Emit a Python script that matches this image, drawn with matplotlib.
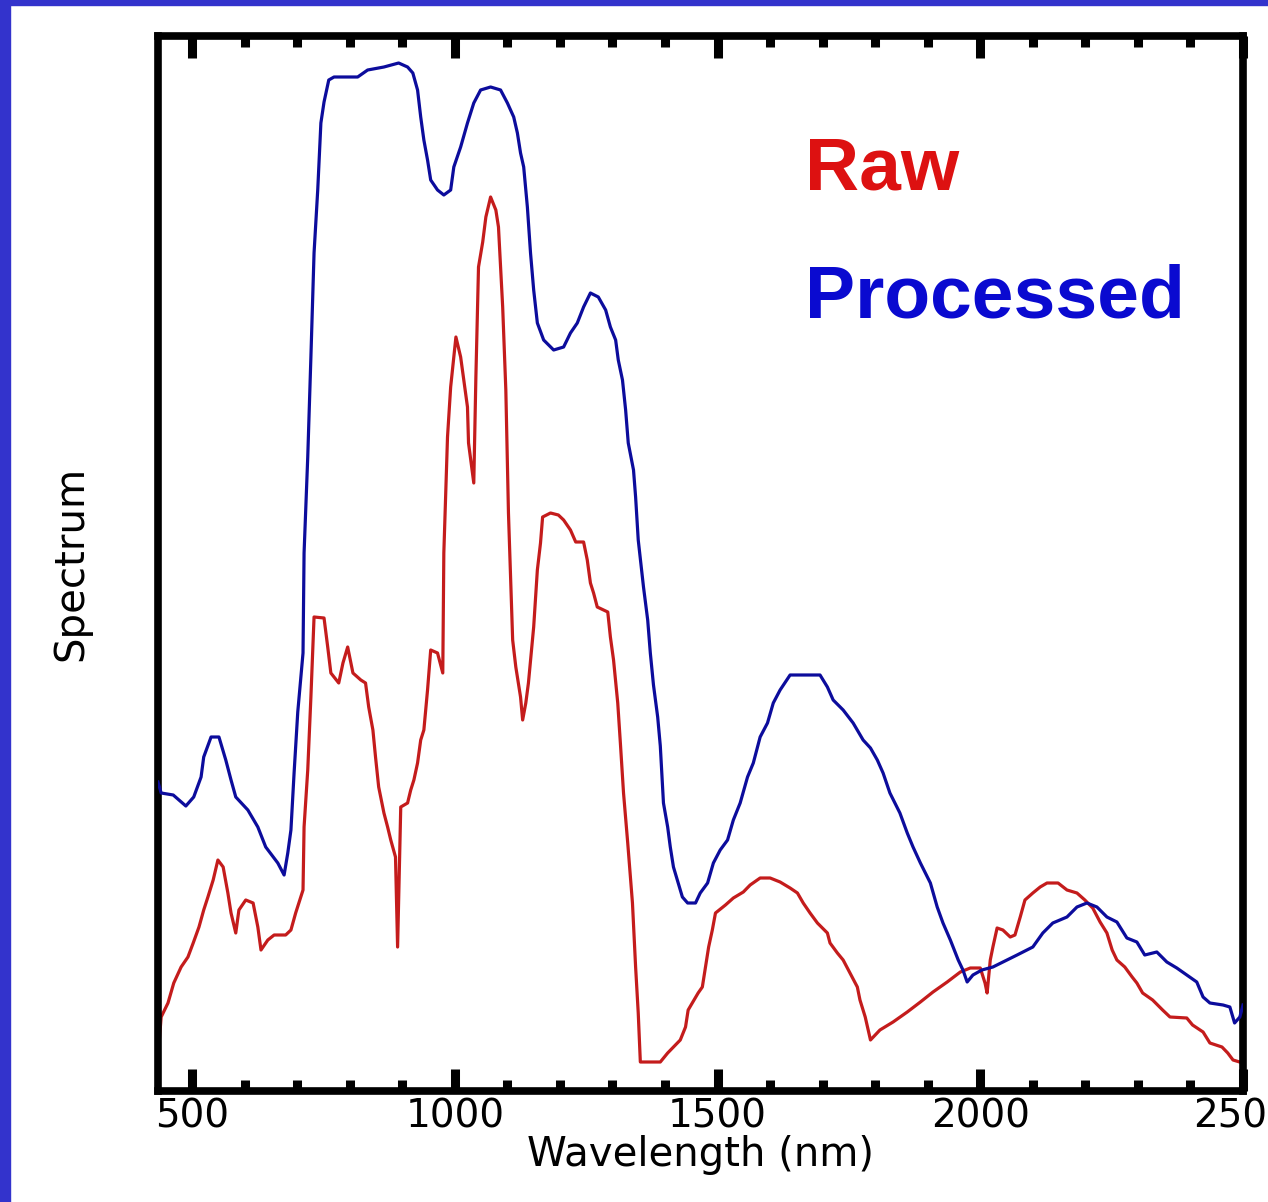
import matplotlib.pyplot as plt
from matplotlib.patches import Rectangle
from matplotlib.ticker import MultipleLocator

# Processed spectrum (wavelength in nm, arbitrary units)
proc_wl = [435, 441, 464, 488, 503, 517, 522, 536, 551, 564, 574, 583, 606, 625, 640, 663,
           675, 682, 688, 694, 701, 711, 713, 720, 726, 732, 739, 745, 751, 760, 770, 815,
           834, 865, 893, 910, 920, 929, 935, 941, 948, 954, 967, 979, 992, 998, 1011, 1024,
           1036, 1049, 1068, 1087, 1100, 1112, 1119, 1125, 1131, 1138, 1144, 1150, 1157, 1169,
           1188, 1207, 1220, 1233, 1245, 1258, 1273, 1287, 1296, 1306, 1311, 1319, 1325, 1330,
           1340, 1344, 1349, 1359, 1367, 1372, 1378, 1386, 1391, 1397, 1405, 1410, 1416, 1425,
           1433, 1443, 1458, 1467, 1481, 1492, 1505, 1519, 1530, 1543, 1557, 1568, 1581, 1595,
           1606, 1619, 1638, 1695, 1709, 1720, 1739, 1758, 1777, 1791, 1804, 1815, 1828, 1847,
           1861, 1872, 1886, 1905, 1918, 1929, 1943, 1958, 1967, 1975, 1986, 2003, 2024, 2051,
           2070, 2100, 2119, 2138, 2165, 2184, 2203, 2222, 2241, 2260, 2279, 2298, 2313, 2336,
           2355, 2374, 2393, 2412, 2424, 2437, 2462, 2475, 2484, 2494, 2500]
proc_val = [309, 298, 296, 285, 294, 314, 334, 354, 354, 331, 311, 294, 281, 264, 244, 228,
            216, 238, 261, 318, 379, 438, 538, 634, 734, 838, 901, 968, 989, 1011, 1014, 1014,
            1021, 1024, 1028, 1024, 1018, 1001, 974, 951, 931, 911, 901, 896, 901, 924, 944, 968,
            988, 1001, 1004, 1001, 988, 974, 958, 938, 924, 884, 838, 801, 768, 751,
            741, 744, 758, 768, 784, 798, 794, 781, 764, 751, 731, 711, 681, 648,
            621, 594, 551, 504, 471, 438, 406, 374, 345, 288, 264, 244, 224, 208,
            194, 188, 188, 198, 208, 228, 241, 251, 271, 288, 314, 328, 354, 368,
            388, 401, 416, 416, 404, 391, 381, 368, 351, 343, 331, 318, 298, 278,
            258, 244, 228, 208, 184, 168, 151, 131, 121, 109, 116, 121, 124, 131,
            136, 144, 158, 168, 174, 184, 188, 184, 174, 169, 153, 149, 136, 139,
            129, 123, 116, 109, 94, 88, 86, 84, 68, 74, 86]

# Raw spectrum
raw_wl = [435, 441, 454, 465, 479, 492, 502, 513, 522, 530, 540, 549, 559, 568, 574, 583,
          589, 602, 616, 625, 631, 644, 656, 678, 688, 697, 711, 713, 720, 726, 732, 751,
          758, 764, 779, 787, 796, 806, 821, 830, 836, 844, 849, 855, 865, 872, 878, 887,
          891, 897, 910, 916, 922, 929, 935, 941, 948, 954, 967, 977, 979, 986, 992, 1002,
          1011, 1017, 1024, 1026, 1036, 1040, 1045, 1053, 1059, 1068, 1078, 1083, 1091, 1097,
          1102, 1110, 1116, 1125, 1129, 1135, 1140, 1150, 1157, 1163, 1167, 1182, 1197, 1207,
          1220, 1230, 1245, 1252, 1258, 1264, 1271, 1291, 1296, 1302, 1310, 1315, 1321, 1329,
          1338, 1344, 1349, 1353, 1391, 1405, 1429, 1439, 1444, 1463, 1471, 1477, 1483, 1490,
          1496, 1515, 1530, 1549, 1562, 1581, 1600, 1619, 1638, 1652, 1663, 1676, 1690, 1709,
          1714, 1728, 1739, 1752, 1766, 1771, 1781, 1791, 1809, 1834, 1861, 1886, 1910, 1937,
          1962, 1981, 2000, 2009, 2013, 2019, 2024, 2032, 2043, 2057, 2066, 2076, 2085, 2100,
          2114, 2127, 2148, 2165, 2184, 2199, 2214, 2228, 2241, 2251, 2260, 2275, 2289, 2298,
          2309, 2328, 2347, 2361, 2393, 2404, 2424, 2437, 2460, 2471, 2481, 2500]
raw_val = [34, 74, 88, 108, 124, 134, 148, 164, 181, 194, 211, 231, 224, 198, 178, 158,
           181, 191, 188, 164, 141, 151, 156, 156, 161, 178, 201, 264, 321, 394, 474, 473,
           444, 418, 408, 428, 444, 418, 411, 408, 384, 361, 334, 304, 278, 264, 251, 234,
           144, 284, 288, 301, 311, 328, 351, 361, 401, 441, 438, 418, 538, 654, 704, 754,
           734, 711, 684, 648, 608, 714, 824, 849, 874, 894, 881, 864, 784, 701,
           578, 451, 424, 394, 371, 388, 408, 464, 521, 548, 574, 578, 576, 571,
           561, 549, 549, 531, 508, 498, 484, 479, 454, 431, 388, 348, 298, 248,
           188, 124, 78, 29, 29, 38, 51, 64, 81, 98, 104, 124, 144, 161,
           178, 186, 193, 199, 206, 213, 213, 209, 203, 198, 188, 178, 168, 158,
           148, 138, 131, 118, 104, 91, 74, 51, 61, 69, 79, 89, 99, 109,
           119, 123, 123, 108, 98, 131, 144, 163, 161, 154, 156, 174, 191, 198,
           204, 208, 208, 201, 198, 191, 183, 169, 158, 141, 131, 124, 114, 108,
           98, 91, 81, 74, 73, 66, 59, 48, 44, 38, 31, 28]

fig = plt.figure(figsize=(12.68, 12.02), dpi=100)
fig.patch.set_facecolor('white')

# blue frame on the left and top edges
border = '#3333cc'
fig.patches.append(Rectangle((0, 0), 10 / 1268, 1, transform=fig.transFigure, color=border, zorder=0))
fig.patches.append(Rectangle((0, 1 - 5 / 1202), 1, 5 / 1202, transform=fig.transFigure, color=border, zorder=0))

ax = fig.add_axes([158 / 1268, 1 - 1091 / 1202, (1243 - 158) / 1268, (1091 - 36) / 1202])

ax.plot(proc_wl, proc_val, color='#0c0c9c', lw=2.3, zorder=3)
ax.plot(raw_wl, raw_val, color='#c41c1c', lw=2.3, zorder=2)

ax.set_xlim(435, 2500)
ax.set_ylim(0, 1055)

ax.xaxis.set_major_locator(MultipleLocator(500))
ax.xaxis.set_minor_locator(MultipleLocator(100))
ax.tick_params(axis='x', which='both', direction='in', top=True, width=6.5, pad=5,
               labelsize=28)
ax.tick_params(axis='x', which='major', length=16)
ax.tick_params(axis='x', which='minor', length=8)
ax.set_yticks([])

for sp in ax.spines.values():
    sp.set_linewidth(5.5)

ax.set_xlabel('Wavelength (nm)', fontsize=29, labelpad=-1)
ax.set_ylabel('Spectrum', fontsize=29, labelpad=48)

fig.text(805 / 1268, 1 - 190 / 1202, 'Raw', color='#dd1111', fontsize=54,
         fontweight='bold', family=['Liberation Sans', 'DejaVu Sans'], va='baseline')
fig.text(805 / 1268, 1 - 318 / 1202, 'Processed', color='#0a0ad0', fontsize=54,
         fontweight='bold', family=['Liberation Sans', 'DejaVu Sans'], va='baseline')

fig.savefig('out.png', dpi=100)
